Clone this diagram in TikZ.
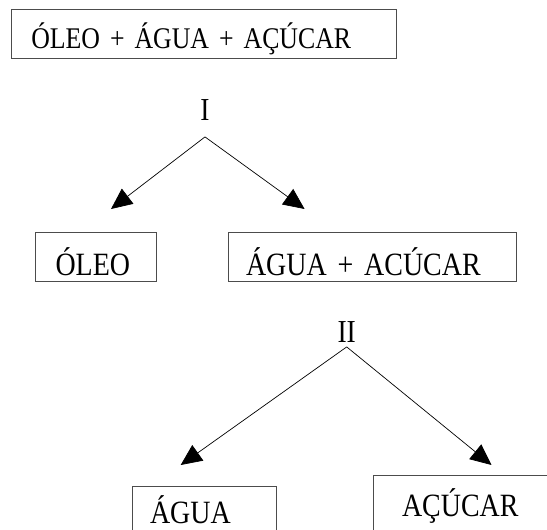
\documentclass[tikz,border=0pt]{standalone}
\usepackage{fontspec}
\setmainfont[FakeStretch=0.86]{Liberation Serif}
\usetikzlibrary{arrows.meta}

\tikzset{
  caixa/.style={draw=black!70, line width=1.1pt, anchor=north west, align=left,
    minimum height=49.3pt, inner ysep=0pt, text depth=0pt, font=\fontsize{32.5}{36}\selectfont},
  seta/.style={-{Triangle[length=21pt,width=19pt]}, line width=0.7pt},
  etapa/.style={font=\fontsize{32}{36}\selectfont, anchor=base, inner xsep=0pt}
}

\begin{document}
\begin{tikzpicture}[x=1pt,y=-1pt]
\useasboundingbox (0,0) rectangle (547,530);
\node[caixa, inner xsep=19.7pt, text width=345.6pt, text height=29.3pt, font=\fontsize{30}{34}\selectfont]
  (mistura) at (11,9) {ÓLEO + ÁGUA + AÇÚCAR};
\node[etapa, inner ysep=16.7pt] (I) at (205,120) {I};
\coordinate (esqI) at (111,209);
\coordinate (dirI) at (304.6,209);
\draw[seta] (I.south) -- (esqI);
\draw[seta] (I.south) -- (dirI);
\node[caixa, inner xsep=20pt, text width=81pt, text height=36.2pt] (oleo) at (35,231.7) {ÓLEO};
\node[caixa, inner xsep=18pt, text width=252pt, text height=36.2pt] (solucao) at (227.5,231.7) {ÁGUA + ACÚCAR};
\node[etapa, inner ysep=4pt] (II) at (346.7,342.7) {II};
\coordinate (esqII) at (180.7,465);
\coordinate (dirII) at (491.5,465);
\draw[seta] (II.south) -- (esqII);
\draw[seta] (II.south) -- (dirII);
\node[caixa, inner xsep=17.8pt, text width=108.7pt, text height=25.3pt] (agua) at (131.7,486) {ÁGUA};
\node[caixa, inner xsep=28.5pt, text width=200pt, text height=21.4pt, minimum height=60pt] (acucar) at (373,475) {AÇÚCAR};
\end{tikzpicture}
\end{document}
